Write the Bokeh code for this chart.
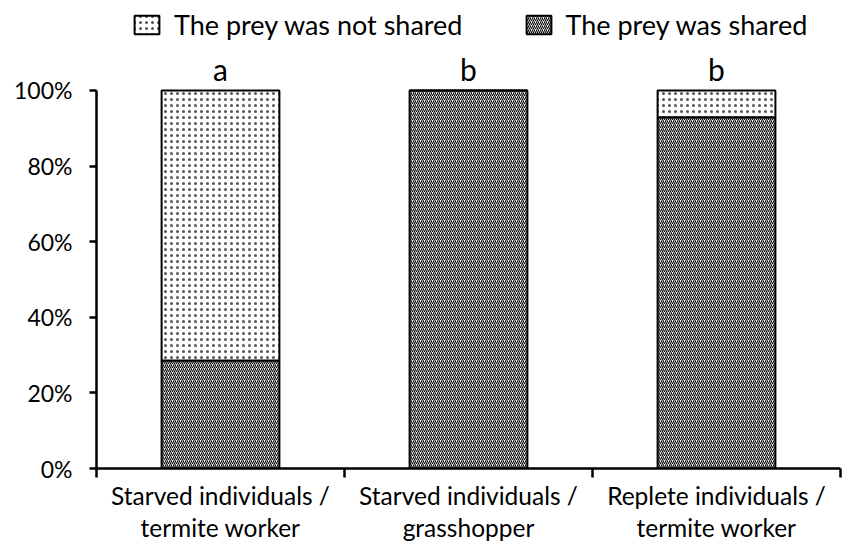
from bokeh.plotting import figure
from bokeh.models import (Range1d, FixedTicker, Legend, LegendItem, ColumnDataSource,
                          NumeralTickFormatter)
from bokeh.core.properties import value
from bokeh.embed import file_html
from bokeh.resources import INLINE

categories = ["Starved individuals /\ntermite worker",
              "Starved individuals /\ngrasshopper",
              "Replete individuals /\ntermite worker"]
shared = [0.286, 1.0, 0.929]
not_shared = [0.714, 0.0, 0.071]
letters = ["a", "b", "b"]
y_ticks = [0, 0.2, 0.4, 0.6, 0.8, 1.0]

FONT = "Lato"
xs = [i + 0.5 for i in range(len(categories))]
src = ColumnDataSource(dict(x=xs, shared=shared, not_shared=not_shared,
                            top=[s + n for s, n in zip(shared, not_shared)],
                            letter=letters))

p = figure(width=849, height=550, output_backend="svg", toolbar_location=None,
           x_range=Range1d(0, len(categories)), y_range=Range1d(0, 1.238),
           frame_width=744, frame_height=468,
           min_border_left=96, min_border_right=9, min_border_top=0, min_border_bottom=82)
p.outline_line_color = None
p.xgrid.grid_line_color = None
p.ygrid.grid_line_color = None

rs = p.vbar_stack(["shared", "not_shared"], x="x", width=0.475, source=src,
                  fill_color="white", line_color="black", line_width=2,
                  hatch_pattern=["right_diagonal_line", "dot"],
                  hatch_color=["black", "#555555"],
                  hatch_scale=[4, 6], hatch_weight=[1.1, 1.0])

p.text(x="x", y="top", text="letter", source=src, text_align="center",
       text_baseline="bottom", y_offset=-3, text_font=value(FONT),
       text_font_size="30px", text_color="black")

legend = Legend(items=[LegendItem(label="The prey was not shared", renderers=[rs[1]]),
                       LegendItem(label="The prey was shared", renderers=[rs[0]])],
                orientation="horizontal", location=(35, 427),
                border_line_color=None, background_fill_alpha=0,
                glyph_width=31, glyph_height=23, label_standoff=12, spacing=60,
                label_text_font=FONT, label_text_font_size="27px",
                label_text_color="black",
                padding=0, margin=0)
p.add_layout(legend)

xa = p.xaxis[0]
xa.ticker = FixedTicker(ticks=xs, minor_ticks=list(range(len(categories) + 1)))
xa.major_label_overrides = {x: c for x, c in zip(xs, categories)}
xa.major_tick_out = 0
xa.major_tick_in = 0
xa.minor_tick_out = 9
xa.minor_tick_in = 0
xa.minor_tick_line_width = 2.5
xa.axis_line_width = 2.5
xa.major_label_standoff = 3
xa.major_label_text_font = FONT
xa.major_label_text_font_size = "24.5px"
xa.major_label_text_line_height = 1.12
xa.major_label_text_color = "black"

ya = p.yaxis[0]
ya.bounds = (0, 1)
ya.ticker = FixedTicker(ticks=y_ticks, minor_ticks=[])
ya.formatter = NumeralTickFormatter(format="0%")
ya.major_tick_out = 7
ya.major_tick_in = 0
ya.major_tick_line_width = 2.5
ya.axis_line_width = 2.5
ya.major_label_standoff = 17
ya.major_label_text_font = FONT
ya.major_label_text_font_size = "23px"
ya.major_label_text_color = "black"

open("out.html", "w").write(file_html(p, INLINE))
